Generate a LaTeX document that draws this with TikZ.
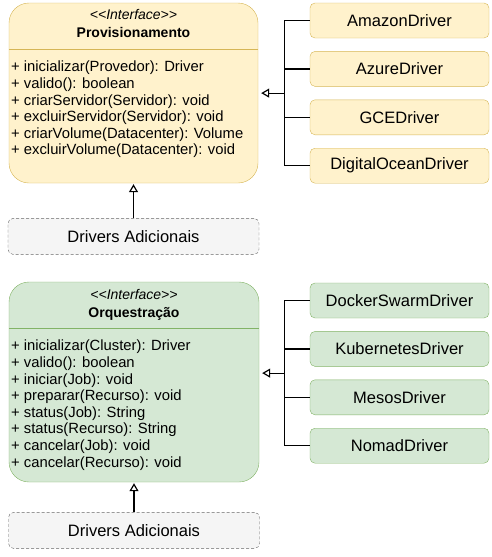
\documentclass[tikz,border=0pt]{standalone}
\usepackage{fontspec}
\setmainfont{Liberation Sans}
\usetikzlibrary{arrows.meta,calc,positioning}

\definecolor{provfill}{HTML}{FFF2CC}
\definecolor{provline}{HTML}{D6B656}
\definecolor{orqfill}{HTML}{D5E8D4}
\definecolor{orqline}{HTML}{82B366}
\definecolor{extrafill}{HTML}{F5F5F5}
\definecolor{extraline}{HTML}{666666}

\begin{document}
\begin{tikzpicture}[
    x=1pt, y=1pt,
    node distance=13pt,
    ifacebox/.style={draw, rounded corners=20pt, minimum width=249pt, inner sep=0pt},
    ifacehead/.style={align=center, inner sep=0pt, font=\fontsize{14}{18}\selectfont},
    ifaceops/.style={align=left, inner sep=0pt, anchor=north west, font=\fontsize{14.8}{16.6}\selectfont},
    drvbox/.style={draw, rounded corners=5pt, minimum width=179pt, minimum height=35pt, inner sep=0pt, font=\fontsize{16.5}{20}\selectfont},
    extrabox/.style={draw=extraline, fill=extrafill, densely dashed, rounded corners=5pt, minimum width=251pt, minimum height=36pt, inner sep=0pt, font=\fontsize{16.5}{20}\selectfont},
    implarrow/.style={-{Triangle[open, length=8pt, width=9pt]}, line width=1.2pt, shorten >=3pt},
    bus/.style={line width=1.2pt}
  ]
    \useasboundingbox (0,0) rectangle (491,-557);

    % Provisionamento
    \node[ifacebox, draw=provline, fill=provfill, minimum height=180pt] (prov) at (133.5,-93) {};
    \node[ifacehead, below=6pt of prov.north] (provhead) {\textit{{<}{<}Interface{>}{>}}\\ \textbf{Provisionamento}};
    \draw[provline] (prov.west |- 0,-49) -- (prov.east |- 0,-49);
    \node[ifaceops] (provops) at (11,-61) {+ inicializar(Provedor): Driver\\ + valido(): boolean\\ + criarServidor(Servidor): void\\ + excluirServidor(Servidor): void\\ + criarVolume(Datacenter): Volume\\ + excluirVolume(Datacenter): void};

    \node[drvbox, draw=provline, fill=provfill] (amazon) at (399.5,-20.5) {AmazonDriver};
    \node[drvbox, draw=provline, fill=provfill, below=of amazon] (azure) {AzureDriver};
    \node[drvbox, draw=provline, fill=provfill, below=of azure] (gce) {GCEDriver};
    \node[drvbox, draw=provline, fill=provfill, below=of gce] (ocean) {DigitalOceanDriver};

    \coordinate (provbus) at ($(amazon.west)!0.5!(ocean.west)+(-25,0)$);
    \draw[bus] (amazon.west) -| (provbus) |- (ocean.west);
    \draw[bus] (azure.west) -- (azure.west -| provbus);
    \draw[bus] (gce.west) -- (gce.west -| provbus);
    \draw[implarrow] (provbus) -- (provbus -| prov.east);

    \node[extrabox, below=35pt of prov] (provextra) {Drivers Adicionais};
    \draw[implarrow, shorten >=1pt] (provextra.north) -- (prov.south);

    % Orquestracao
    \node[ifacebox, draw=orqline, fill=orqfill, minimum width=250pt, minimum height=200pt] (orq) at (134,-382) {};
    \node[ifacehead, below=7pt of orq.north] (orqhead) {\textit{{<}{<}Interface{>}{>}}\\ \textbf{Orquestração}};
    \draw[orqline] (orq.west |- 0,-328) -- (orq.east |- 0,-328);
    \node[ifaceops] (orqops) at (11,-340) {+ inicializar(Cluster): Driver\\ + valido(): boolean\\ + iniciar(Job): void\\ + preparar(Recurso): void\\ + status(Job): String\\ + status(Recurso): String\\ + cancelar(Job): void\\ + cancelar(Recurso): void};

    \node[drvbox, draw=orqline, fill=orqfill] (docker) at (399.5,-300.5) {DockerSwarmDriver};
    \node[drvbox, draw=orqline, fill=orqfill, below=of docker] (kube) {KubernetesDriver};
    \node[drvbox, draw=orqline, fill=orqfill, below=of kube] (mesos) {MesosDriver};
    \node[drvbox, draw=orqline, fill=orqfill, below=of mesos] (nomad) {NomadDriver};

    \coordinate (orqbus) at ($(docker.west)!0.5!(nomad.west)+(-25,0)$);
    \draw[bus] (docker.west) -| (orqbus) |- (nomad.west);
    \draw[bus] (kube.west) -- (kube.west -| orqbus);
    \draw[bus] (mesos.west) -- (mesos.west -| orqbus);
    \draw[implarrow] (orqbus) -- (orqbus -| orq.east);

    \node[extrabox, below=30pt of orq] (orqextra) {Drivers Adicionais};
    \draw[implarrow, shorten >=1pt] (orqextra.north) -- (orq.south);
\end{tikzpicture}
\end{document}
